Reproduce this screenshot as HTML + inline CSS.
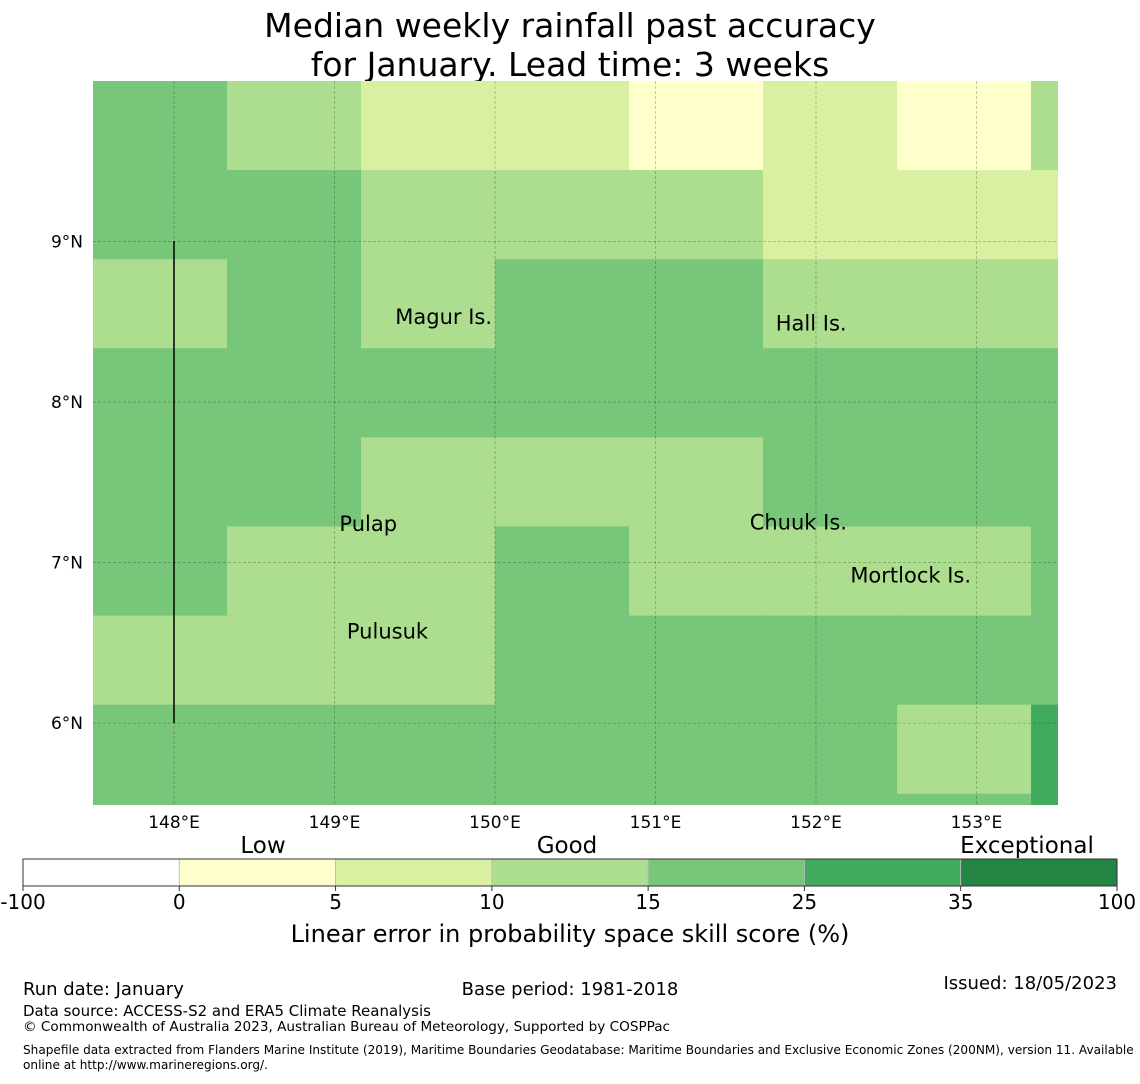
<!DOCTYPE html>
<html><head><meta charset="utf-8"><style>
body{margin:0;background:#fff;width:1140px;height:1080px;overflow:hidden;font-family:"DejaVu Sans","Liberation Sans",sans-serif}
svg text{font-family:"DejaVu Sans","Liberation Sans",sans-serif}
</style></head><body>
<svg id="chart" width="1140" height="1080" xmlns="http://www.w3.org/2000/svg">
<text x="570" y="37" font-size="33" text-anchor="middle">Median weekly rainfall past accuracy</text>
<text x="570" y="76" font-size="33" text-anchor="middle">for January. Lead time: 3 weeks</text>
<g id="cells"></g>
<g id="grid"></g>
<line x1="174" y1="241" x2="174" y2="723" stroke="#000" stroke-width="1.5"/>
<g id="islands" font-size="21"></g>
<g id="axes" font-size="17"></g>
<g id="cbar"></g>
<text x="570" y="942" font-size="24" text-anchor="middle">Linear error in probability space skill score (%)</text>
<text x="23" y="995" font-size="18">Run date: January</text>
<text x="570" y="995" font-size="18" text-anchor="middle">Base period: 1981-2018</text>
<text x="1117" y="989" font-size="18" text-anchor="end">Issued: 18/05/2023</text>
<text x="23" y="1016" font-size="15">Data source: ACCESS-S2 and ERA5 Climate Reanalysis</text>
<text x="23" y="1031" font-size="13.6">© Commonwealth of Australia 2023, Australian Bureau of Meteorology, Supported by COSPPac</text>
<text x="23" y="1054" font-size="12.1">Shapefile data extracted from Flanders Marine Institute (2019), Maritime Boundaries Geodatabase: Maritime Boundaries and Exclusive Economic Zones (200NM), version 11. Available</text>
<text x="23" y="1069" font-size="12.1">online at http://www.marineregions.org/.</text>
</svg>
<script>
const lonStart = 147.495, lonStep = 0.835;
const latTop = 10.0, latStep = 0.555;
const gridValues = [
 [20,12,7,7,3,7,3,12],
 [20,20,12,12,12,7,7,7],
 [12,20,12,20,20,12,12,12],
 [20,20,20,20,20,20,20,20],
 [20,20,12,12,12,20,20,20],
 [20,12,12,20,12,12,12,20],
 [12,12,12,20,20,20,20,20],
 [20,20,20,20,20,20,12,30],
 [20,20,20,20,20,20,20,30]
];
const binEdges = [-100,0,5,10,15,25,35,100];
const binColors = ["#ffffff","#ffffcc","#d9f0a3","#addd8e","#78c679","#41ab5d","#238443"];
const binLabels = ["-100","0","5","10","15","25","35","100"];
const lonTicks = [148,149,150,151,152,153];
const latTicks = [6,7,8,9];
const islandNames = ["Magur Is.","Hall Is.","Pulap","Chuuk Is.","Mortlock Is.","Pulusuk"];
const islandLon = [149.68,151.97,149.21,151.89,152.59,149.33];
const islandLat = [8.53,8.49,7.24,7.25,6.92,6.57];

const X0=93,X1=1058,Y0=81,Y1=805, L0=147.495,L1=153.508, A0=10.0,A1=5.49;
const xs=l=>X0+(l-L0)/(L1-L0)*(X1-X0);
const ys=a=>Y0+(A0-a)/(A0-A1)*(Y1-Y0);
const col=v=>{for(let i=0;i<binColors.length;i++) if(v<binEdges[i+1]) return binColors[i]; return binColors[binColors.length-1];};
const NS="http://www.w3.org/2000/svg";
function mk(tag,attrs,parent){const e=document.createElementNS(NS,tag);for(const k in attrs)e.setAttribute(k,attrs[k]);parent.appendChild(e);return e;}
const cells=document.getElementById('cells');
gridValues.forEach((row,r)=>row.forEach((v,c)=>{
  const xa=xs(lonStart+c*lonStep), xb=Math.min(X1,xs(lonStart+(c+1)*lonStep));
  const ya=ys(latTop-r*latStep), yb=Math.min(Y1,ys(latTop-(r+1)*latStep));
  const e=mk('rect',{x:xa,y:ya,width:Math.min(X1,xb+0.5)-xa,height:Math.min(Y1,yb+0.5)-ya,fill:col(v)},cells);
  
  
}));
const grid=document.getElementById('grid'), axes=document.getElementById('axes');
lonTicks.forEach(l=>{
  const e=mk('line',{x1:xs(l),x2:xs(l),y1:Y0,y2:Y1,stroke:'rgba(0,0,0,0.35)','stroke-width':0.6,'stroke-dasharray':'3,2'},grid);
  
  
  const t=mk('text',{x:xs(l),y:828,'text-anchor':'middle'},axes);t.textContent=l+'°E';
  
  
});
latTicks.forEach(a=>{
  const e=mk('line',{x1:X0,x2:X1,y1:ys(a),y2:ys(a),stroke:'rgba(0,0,0,0.35)','stroke-width':0.6,'stroke-dasharray':'3,2'},grid);
  
  
  const t=mk('text',{x:83,y:ys(a)+6,'text-anchor':'end'},axes);t.textContent=a+'°N';
  
  
});
const isl=document.getElementById('islands');
islandNames.forEach((n,i)=>{
  const t=mk('text',{x:xs(islandLon[i]),y:ys(islandLat[i])+7,'text-anchor':'middle'},isl);t.textContent=n;
  
  
});
const cb=document.getElementById('cbar');
const CX0=23,CX1=1117,n=binColors.length,w=(CX1-CX0)/n;
binColors.forEach((c,i)=>{
  const e=mk('rect',{x:CX0+i*w,y:859,width:w,height:27,fill:c,stroke:'#bbb','stroke-width':0.8},cb);
  
  
});
mk('rect',{x:CX0,y:859,width:CX1-CX0,height:27,fill:'none',stroke:'#333','stroke-width':1},cb);
binLabels.forEach((l,i)=>{
  mk('line',{x1:CX0+i*w,x2:CX0+i*w,y1:886,y2:891,stroke:'#333'},cb);
  const t=mk('text',{x:CX0+i*w,y:909,'text-anchor':'middle','font-size':20},cb);t.textContent=l;
  
  
});
[["Low",263],["Good",567],["Exceptional",1027]].forEach(([s,x])=>{
  const t=mk('text',{x:x,y:853,'text-anchor':'middle','font-size':23},cb);t.textContent=s;
  
  
});
</script>
</body></html>
